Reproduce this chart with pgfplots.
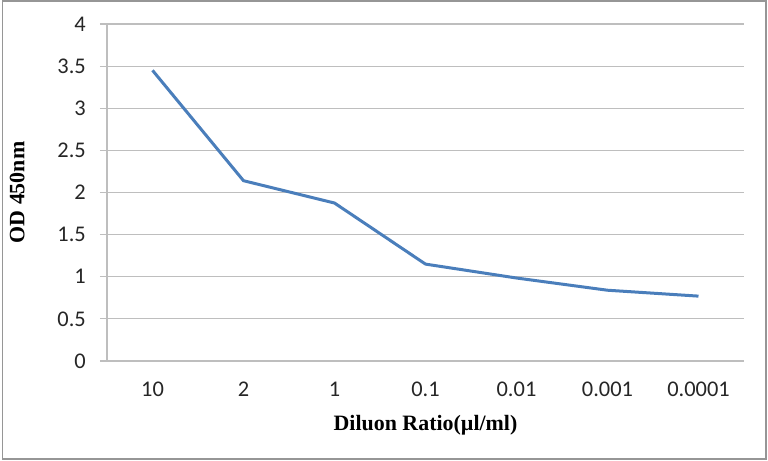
\documentclass[border=0pt]{standalone}
\usepackage{pgfplots}
\pgfplotsset{compat=1.18}
\usepackage{fontspec}
\setmainfont{Carlito}
\newfontfamily\timesf{Liberation Serif}
\definecolor{excelblue}{RGB}{74,126,187}
\definecolor{gridgray}{RGB}{190,190,190}
\definecolor{bordergray}{RGB}{150,150,150}
\begin{document}
\begin{tikzpicture}
\useasboundingbox (0,0) rectangle (768bp,461bp);
\draw[bordergray, line width=1.8bp] (2.5bp,2bp) rectangle (766bp,460bp);
\begin{axis}[
  at={(107bp,100bp)}, anchor=south west,
  scale only axis, width=637bp, height=337bp,
  xmin=-0.5, xmax=6.5, ymin=0, ymax=4,
  xtick=data,
  xticklabels={10,2,1,0.1,0.01,0.001,0.0001},
  ytick={0,0.5,1,1.5,2,2.5,3,3.5,4},
  yticklabels={0,0.5,1,1.5,2,2.5,3,3.5,4},
  /pgf/number format/assume math mode=true,
  axis x line*=bottom, axis y line*=left,
  axis line style={gridgray, line width=1.2bp},
  ymajorgrids, grid style={gridgray, line width=1.2bp},
  major x tick style={draw=none},
  major y tick style={gridgray, line width=1.2bp},
  tick align=outside, major tick length=7bp,
  tick label style={font=\fontsize{22.5}{26}\selectfont, text=black!85},
  yticklabel style={inner sep=0pt, xshift=-14bp},
  xticklabel style={inner sep=0pt, yshift=-14bp},
  xlabel={\timesf\bfseries Diluon Ratio(µl/ml)},
  ylabel={\timesf\bfseries OD 450nm},
  label style={font=\fontsize{22}{26}\selectfont},
  xlabel style={at={(axis description cs:0.5,-0.19)}, anchor=center},
  ylabel style={at={(axis description cs:-0.141,0.5)}, anchor=center, rotate=0},
  clip=false,
]
\addplot[excelblue, line width=3bp, line join=round] coordinates {
  (0,3.45) (1,2.14) (2,1.875) (3,1.15) (4,0.985) (5,0.84) (6,0.77)
};
\end{axis}
\end{tikzpicture}
\end{document}
